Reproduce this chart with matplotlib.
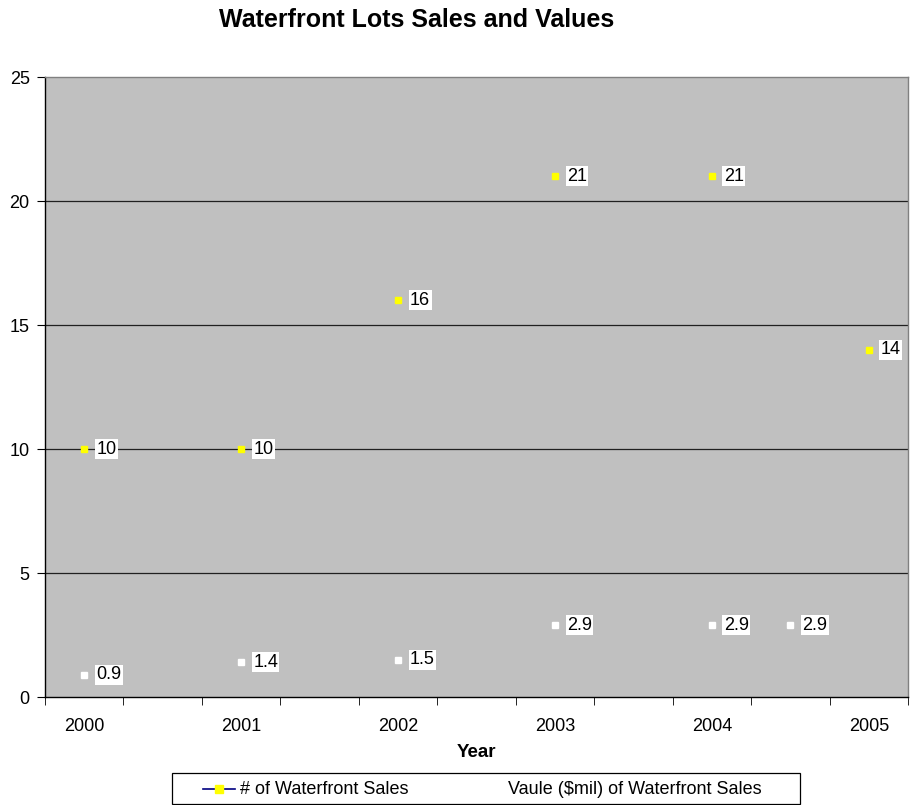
import matplotlib
matplotlib.use("Agg")
import matplotlib.pyplot as plt
from matplotlib.lines import Line2D
from matplotlib.patches import Rectangle
import numpy as np

categories = ['2000', '', '2001', '', '2002', '', '2003', '', '2004', '', '2005']
sales = [10, None, 10, None, 16, None, 21, None, 21, None, 14]
values = [0.9, None, 1.4, None, 1.5, None, 2.9, None, 2.9, 2.9, None]
y_ticks = [0, 5, 10, 15, 20, 25]
series_names = ['# of Waterfront Sales', 'Vaule ($mil) of Waterfront Sales']

plt.rcParams['font.family'] = ['Liberation Sans', 'DejaVu Sans']

W, H = 910, 805
fig = plt.figure(figsize=(W / 100, H / 100), dpi=100)
fig.patch.set_facecolor('white')
ax = fig.add_axes([45 / W, (H - 697) / H, 863 / W, 620 / H])
ax.set_facecolor('#C0C0C0')

n = len(categories)
xs = np.arange(n)
ax.set_xlim(-0.5, n - 0.5)
ax.set_ylim(0, 25)

for y in y_ticks[1:-1]:
    ax.axhline(y, color='#202020', lw=0.9, zorder=1)

sx = [x for x, v in zip(xs, sales) if v is not None]
sv = [v for v in sales if v is not None]
vx = [x for x, v in zip(xs, values) if v is not None]
vv = [v for v in values if v is not None]

ax.plot(sx, sv, linestyle='none', marker='s', markersize=5, color='#FFFF00',
        markeredgecolor='#FFFF00', zorder=3)
ax.plot(vx, vv, linestyle='none', marker='s', markersize=5, color='white',
        markeredgecolor='white', zorder=3)

def label(x, v):
    txt = ('%g' % v)
    ax.annotate(txt, (x, v), xytext=(12, 0), textcoords='offset pixels',
                ha='left', va='center', fontsize=13, color='black',
                bbox=dict(boxstyle='square,pad=0.08', fc='white', ec='none'), zorder=4)

for x, v in zip(sx, sv):
    label(x, v)
for x, v in zip(vx, vv):
    label(x, v)

ax.set_yticks(y_ticks)
ax.set_yticklabels([str(t) for t in y_ticks], fontsize=13)
ax.set_xticks(xs)
ax.set_xticklabels(categories, fontsize=13)
ax.set_xticks(np.arange(-0.5, n, 1.0), minor=True)
ax.tick_params(axis='x', which='major', length=0, pad=15)
ax.tick_params(axis='x', which='minor', length=6, direction='out', color='black')
ax.tick_params(axis='y', length=6, direction='out', color='black', pad=5)
for s in ['left', 'bottom']:
    ax.spines[s].set_color('black')
    ax.spines[s].set_linewidth(1.0)
for s in ['top', 'right']:
    ax.spines[s].set_color('#808080')
    ax.spines[s].set_linewidth(1.0)

fig.text(417 / W, 1 - 20 / H, 'Waterfront Lots Sales and Values', ha='center', va='center',
         fontsize=18, fontweight='bold')
fig.text(476 / W, 1 - 752 / H, 'Year', ha='center', va='center', fontsize=13.5, fontweight='bold')

# manual legend (Excel style)
fig.add_artist(Rectangle((172 / W, 1 - 804 / H), 628 / W, 31 / H, transform=fig.transFigure,
                         fc='white', ec='black', lw=0.9))
ly = 1 - 789 / H
fig.add_artist(Line2D([203 / W, 235 / W], [ly, ly], transform=fig.transFigure,
                      color='#000080', lw=1.2))
fig.add_artist(Line2D([219 / W], [ly], transform=fig.transFigure, linestyle='none',
                      marker='s', markersize=6, markerfacecolor='#FFFF00',
                      markeredgecolor='#FFFF00'))
fig.text(240 / W, ly, series_names[0], ha='left', va='center', fontsize=13)
fig.add_artist(Line2D([487 / W], [ly], transform=fig.transFigure, linestyle='none',
                      marker='s', markersize=6, markerfacecolor='white',
                      markeredgecolor='white'))
fig.text(508 / W, ly, series_names[1], ha='left', va='center', fontsize=13)

fig.savefig('out.png', dpi=100, facecolor='white')
